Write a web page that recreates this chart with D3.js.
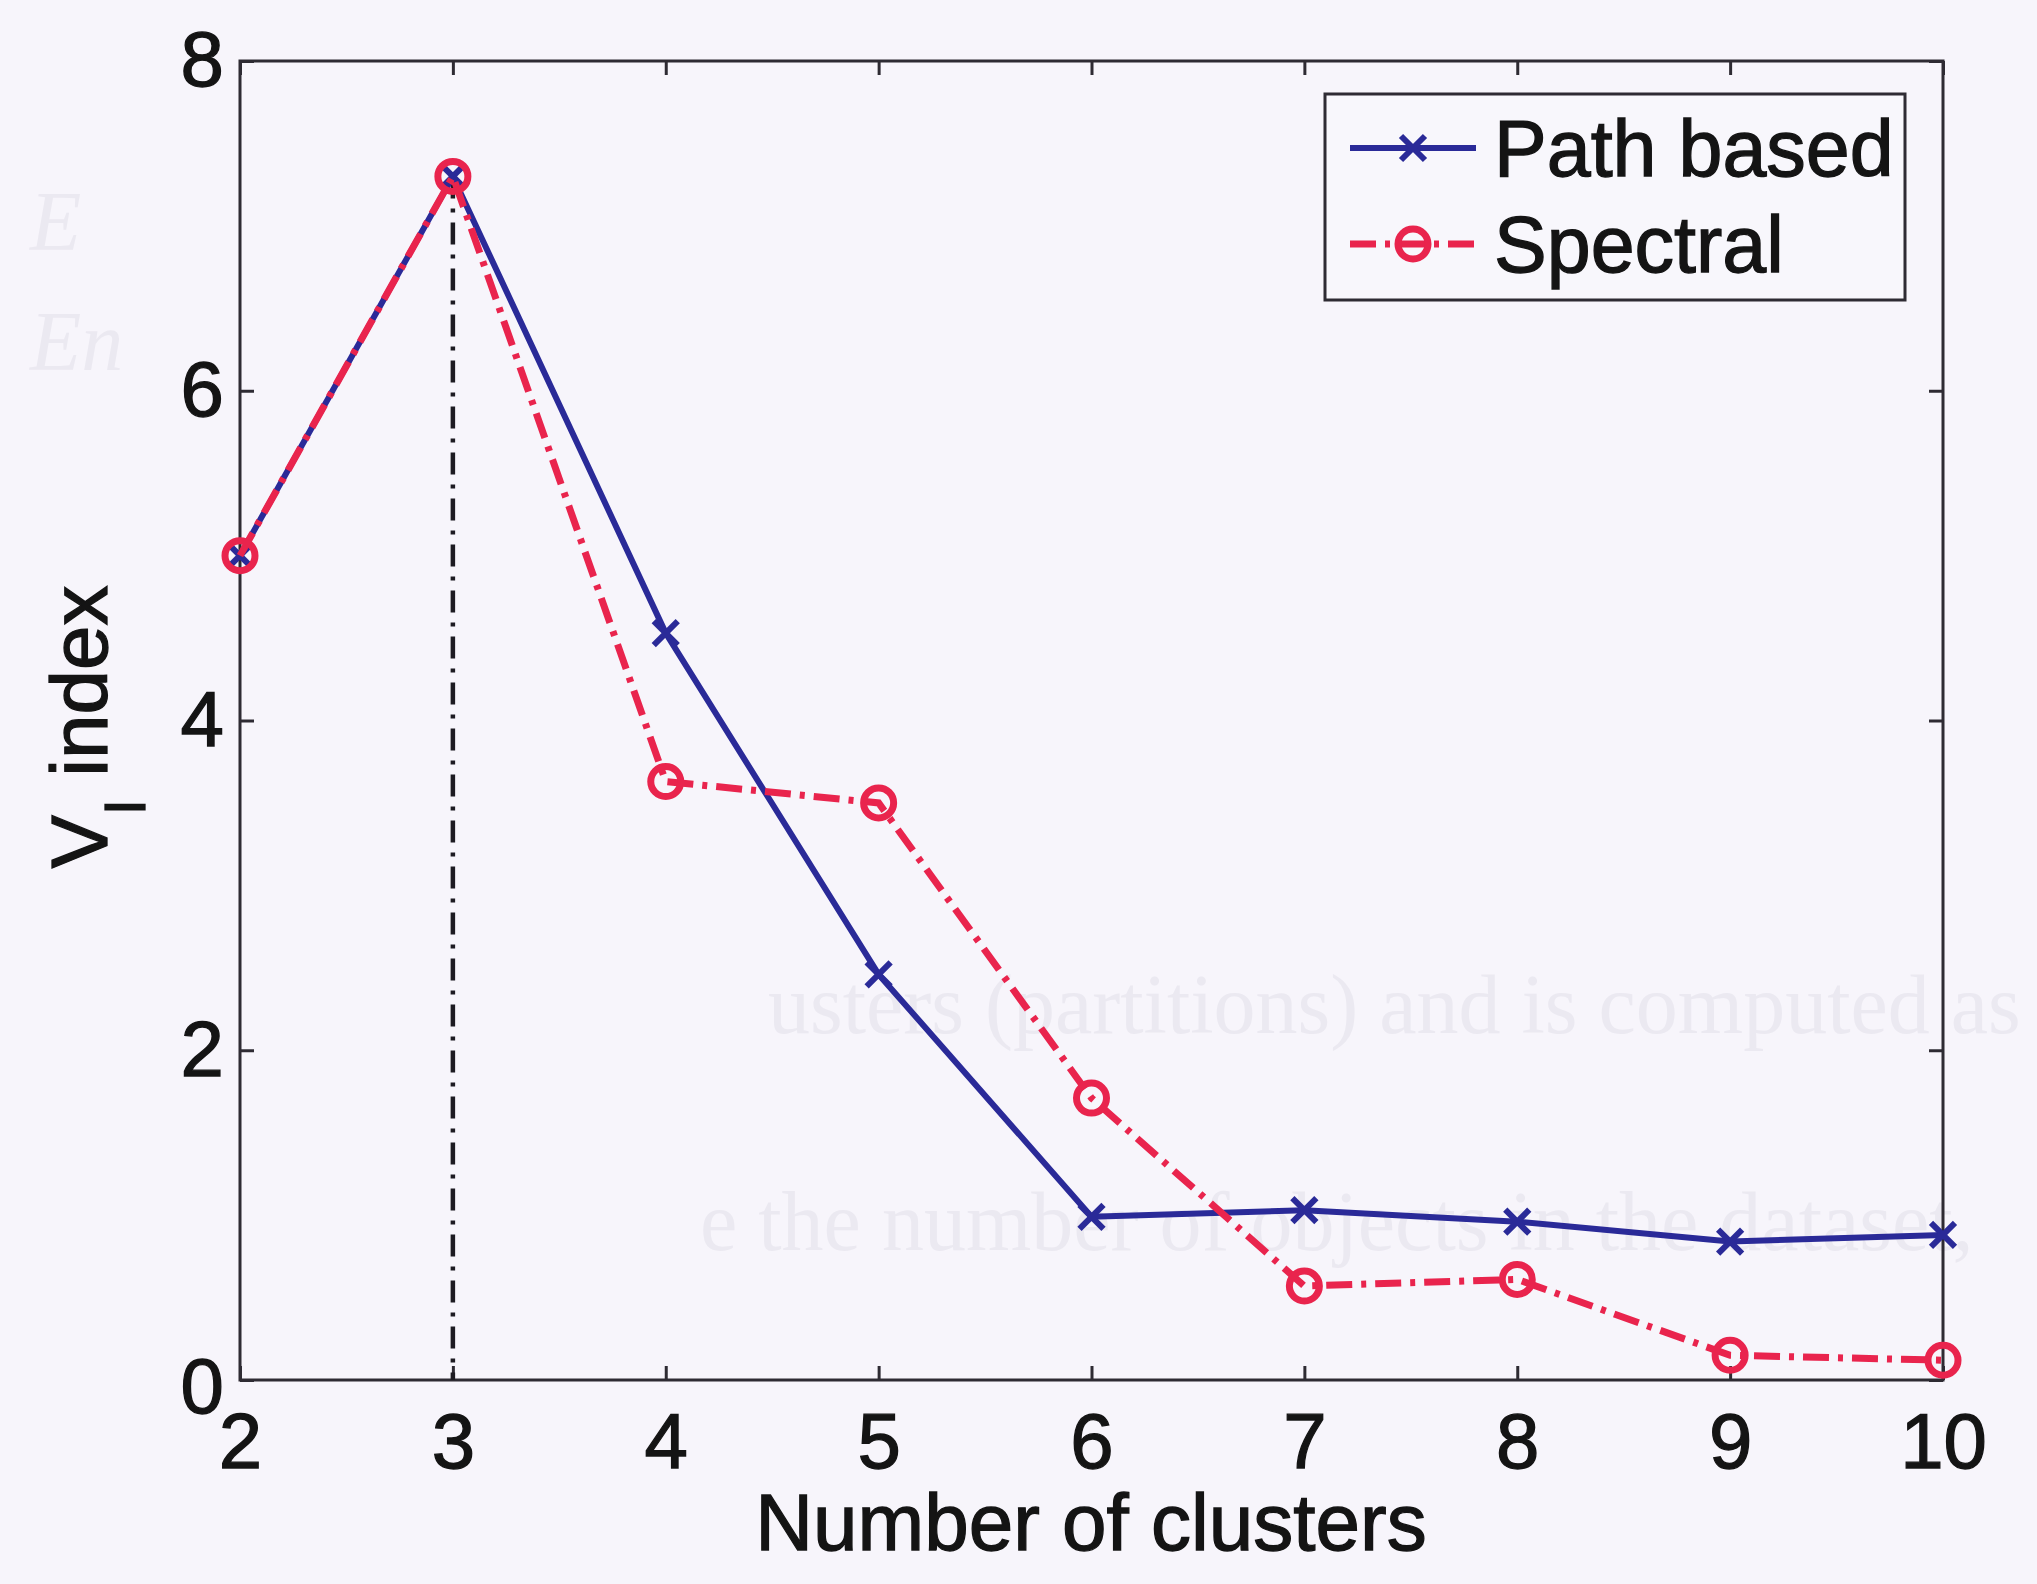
<!DOCTYPE html>
<html>
<head>
<meta charset="utf-8">
<script src="https://cdn.jsdelivr.net/npm/d3@7"></script>
<style>
  html, body { margin: 0; padding: 0; background: #f7f5fb; }
  svg { display: block; }
</style>
</head>
<body>
<script>
// Number of clusters on the x axis
const clusters = [2, 3, 4, 5, 6, 7, 8, 9, 10];
// V_I index for each clustering method
const pathBased = [5.0, 7.3, 4.53, 2.46, 0.99, 1.03, 0.96, 0.84, 0.88];
const spectral = [5.0, 7.3, 3.63, 3.50, 1.71, 0.57, 0.61, 0.15, 0.12];
// Tick values
const xTicks = [2, 3, 4, 5, 6, 7, 8, 9, 10];
const yTicks = [0, 2, 4, 6, 8];
// Chosen number of clusters (marked with a vertical line)
const chosenK = 3;
// Series names
const seriesNames = ["Path based", "Spectral"];
// Faint print-through lines from the reverse side of the page
const backLines = [
  { text: "usters (partitions) and is computed as", x: 768, y: 1033 },
  { text: "e the number of objects in the dataset,", x: 700, y: 1250 },
  { text: "E", x: 30, y: 250, italic: true },
  { text: "En", x: 30, y: 370, italic: true }
];

const W = 2037, H = 1584;
const blue = "#2a2a98", red = "#e9244d", ink = "#141414";
const sans = "'Liberation Sans', Arial, Helvetica, sans-serif";
const serif = "'Liberation Serif', 'DejaVu Serif', serif";

const svg = d3.select("body").append("svg")
  .attr("width", W).attr("height", H)
  .attr("viewBox", `0 0 ${W} ${H}`);

svg.append("rect").attr("width", W).attr("height", H).attr("fill", "#f7f5fb");

// faint print-through text
svg.append("g").selectAll("text").data(backLines).join("text")
  .attr("x", d => d.x).attr("y", d => d.y)
  .style("font-family", serif)
  .style("font-style", d => d.italic ? "italic" : "normal")
  .style("font-size", "84px")
  .attr("fill", "#ebe9f1")
  .text(d => d.text);

const x = d3.scaleLinear().domain([2, 10]).range([240, 1943]);
const y = d3.scaleLinear().domain([0, 8]).range([1380, 61]);

const axisColor = "#2e2b33";

// frame
svg.append("rect")
  .attr("x", x(2)).attr("y", y(8))
  .attr("width", x(10) - x(2)).attr("height", y(0) - y(8))
  .attr("fill", "none").attr("stroke", axisColor).attr("stroke-width", 3);

function styleText(sel, size) {
  sel.style("font-family", sans).style("font-size", size + "px")
    .attr("fill", ink).attr("stroke", ink).attr("stroke-width", 1.3);
}

function styleAxis(g, showLabels) {
  g.select(".domain").remove();
  g.selectAll(".tick line").attr("stroke", axisColor).attr("stroke-width", 3);
  g.selectAll(".tick text").call(styleText, 78);
  if (!showLabels) g.selectAll(".tick text").remove();
}

svg.append("g").attr("transform", `translate(0,${y(0)})`)
  .call(d3.axisBottom(x).tickValues(xTicks).tickFormat(d3.format("d"))
    .tickSizeInner(-14).tickSizeOuter(0).tickPadding(33))
  .call(g => styleAxis(g, true));

svg.append("g").attr("transform", `translate(0,${y(8)})`)
  .call(d3.axisTop(x).tickValues(xTicks).tickSizeInner(-14).tickSizeOuter(0))
  .call(g => styleAxis(g, false));

svg.append("g").attr("transform", `translate(${x(2)},0)`)
  .call(d3.axisLeft(y).tickValues(yTicks).tickFormat(d3.format("d"))
    .tickSizeInner(-14).tickSizeOuter(0).tickPadding(16))
  .call(g => styleAxis(g, true))
  .call(g => g.selectAll(".tick text").filter(d => d === 0).attr("dy", "0.42em"));

svg.append("g").attr("transform", `translate(${x(10)},0)`)
  .call(d3.axisRight(y).tickValues(yTicks).tickSizeInner(-14).tickSizeOuter(0))
  .call(g => styleAxis(g, false));

// axis titles
svg.append("text")
  .attr("x", 1091).attr("y", 1550)
  .attr("text-anchor", "middle")
  .call(styleText, 80)
  .text("Number of clusters");

const yl = svg.append("text")
  .attr("transform", "translate(107,727) rotate(-90)")
  .attr("text-anchor", "middle")
  .call(styleText, 80);
yl.append("tspan").text("V");
yl.append("tspan").style("font-size", "58px").attr("dy", 38).text("I");
yl.append("tspan").attr("dy", -38).text(" index");

// vertical marker at chosen K
const peak = pathBased[clusters.indexOf(chosenK)];
svg.append("line")
  .attr("x1", x(chosenK)).attr("x2", x(chosenK))
  .attr("y1", y(peak)).attr("y2", y(0))
  .attr("stroke", "#1d1b22").attr("stroke-width", 4.5)
  .attr("stroke-dasharray", "22,10,4,10");

const line = d3.line().x(d => x(d[0])).y(d => y(d[1]));
const pathPts = clusters.map((c, i) => [c, pathBased[i]]);
const specPts = clusters.map((c, i) => [c, spectral[i]]);

function crossPath(s) {
  return `M${-s},${-s}L${s},${s}M${-s},${s}L${s},${-s}`;
}

// Path based series
svg.append("path").datum(pathPts).attr("d", line)
  .attr("fill", "none").attr("stroke", blue).attr("stroke-width", 6)
  .attr("stroke-linejoin", "round");
svg.append("g").selectAll("path").data(pathPts).join("path")
  .attr("transform", d => `translate(${x(d[0])},${y(d[1])})`)
  .attr("d", crossPath(12))
  .attr("stroke", blue).attr("stroke-width", 6).attr("fill", "none");

// Spectral series
svg.append("path").datum(specPts).attr("d", line)
  .attr("fill", "none").attr("stroke", red).attr("stroke-width", 7)
  .attr("stroke-dasharray", "26,9,5,9");
svg.append("g").selectAll("circle").data(specPts).join("circle")
  .attr("cx", d => x(d[0])).attr("cy", d => y(d[1]))
  .attr("r", 15)
  .attr("fill", "none").attr("stroke", red).attr("stroke-width", 7);

// legend
const lg = svg.append("g");
lg.append("rect")
  .attr("x", 1325).attr("y", 94).attr("width", 580).attr("height", 206)
  .attr("fill", "#f8f7fc").attr("stroke", axisColor).attr("stroke-width", 3);

const rows = [
  { name: seriesNames[0], cy: 148, color: blue, dash: null, sw: 6, marker: "x" },
  { name: seriesNames[1], cy: 244, color: red, dash: "26,9,5,9", sw: 7, marker: "o" }
];
rows.forEach(r => {
  lg.append("line")
    .attr("x1", 1350).attr("x2", 1476).attr("y1", r.cy).attr("y2", r.cy)
    .attr("stroke", r.color).attr("stroke-width", r.sw)
    .attr("stroke-dasharray", r.dash);
  if (r.marker === "x") {
    lg.append("path").attr("transform", `translate(1413,${r.cy})`)
      .attr("d", crossPath(12)).attr("stroke", r.color).attr("stroke-width", 6);
  } else {
    lg.append("circle").attr("cx", 1413).attr("cy", r.cy).attr("r", 15)
      .attr("fill", "none").attr("stroke", r.color).attr("stroke-width", 7);
  }
  lg.append("text").attr("x", 1494).attr("y", r.cy + 28)
    .call(styleText, 79).text(r.name);
});
</script>
</body>
</html>
